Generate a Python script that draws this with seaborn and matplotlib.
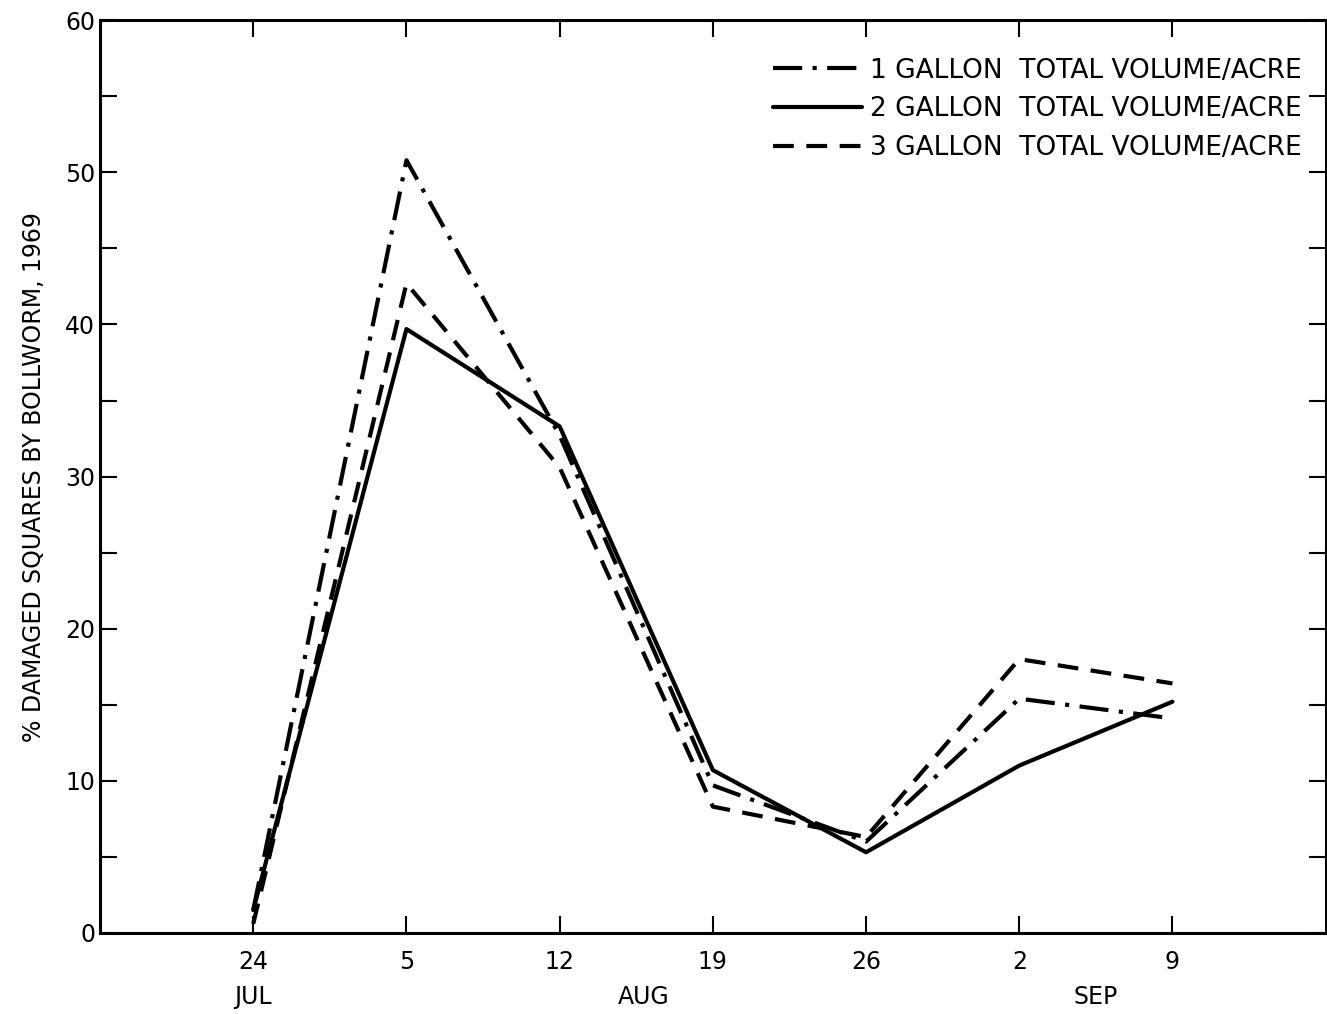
import matplotlib
matplotlib.use("Agg")
import matplotlib.pyplot as plt
import seaborn as sns
import pandas as pd
from matplotlib.ticker import MultipleLocator, FuncFormatter
from matplotlib.lines import Line2D

# sampling dates (day of month), JUL 24 -> SEP 9, 1969
dates = ['24', '5', '12', '19', '26', '2', '9']
months = ['JUL', 'AUG', 'SEP']
month_pos = [0, 2.55, 5.5]

one_gallon = [1.5, 50.8, 32.7, 9.7, 6.0, 15.4, 14.1]
two_gallon = [1.5, 39.7, 33.3, 10.7, 5.3, 11.0, 15.2]
three_gallon = [0.6, 42.7, 30.6, 8.3, 6.3, 18.0, 16.4]

labels = ['1 GALLON  TOTAL VOLUME/ACRE',
          '2 GALLON  TOTAL VOLUME/ACRE',
          '3 GALLON  TOTAL VOLUME/ACRE']

rows = []
for lab, vals in zip(labels, [one_gallon, two_gallon, three_gallon]):
    for i, v in enumerate(vals):
        rows.append([lab, i, v])
df = pd.DataFrame(rows, columns=['series', 'x', 'pct'])

sns.set_style("ticks")
plt.rcParams['font.family'] = ['DejaVu Sans']
plt.rcParams['text.color'] = 'black'
plt.rcParams['axes.labelcolor'] = 'black'

dash_map = {labels[0]: (7, 2.5, 1, 2.5), labels[1]: "", labels[2]: (5, 3)}

fig = plt.figure(figsize=(13.27, 10.14), dpi=100)
ax = fig.add_axes([0.0754, 0.080, 0.9236, 0.900])

sns.lineplot(data=df, x='x', y='pct', hue='series', style='series',
             palette=['black'] * 3, dashes=dash_map, linewidth=3,
             legend=False, ax=ax)

ax.set_xlim(-1, 7)
ax.set_ylim(0, 60)
ax.set_xticks(range(len(dates)))
ax.set_xticklabels(dates)
ax.yaxis.set_major_locator(MultipleLocator(5))
ax.yaxis.set_major_formatter(FuncFormatter(lambda v, p: '%d' % v if v % 10 == 0 else ''))
ax.tick_params(direction='in', length=12, width=1.5, top=True, right=True,
               labelsize=17, colors='black')
ax.tick_params(axis='x', pad=12)
ax.set_xlabel('')
ax.set_ylabel('% DAMAGED SQUARES BY BOLLWORM, 1969', fontsize=17, labelpad=14)
for s in ax.spines.values():
    s.set_linewidth(2.2)
    s.set_color('black')

for m, p in zip(months, month_pos):
    ax.text(p, -0.07, m, transform=ax.get_xaxis_transform(),
            ha='center', va='center', fontsize=17)

handles = [Line2D([], [], color='black', linewidth=3, dashes=(7, 2.5, 1, 2.5)),
           Line2D([], [], color='black', linewidth=3),
           Line2D([], [], color='black', linewidth=3, dashes=(5, 3))]
ax.legend(handles, labels, loc='upper right', bbox_to_anchor=(1.0, 0.985),
          frameon=False, fontsize=19, handlelength=3.4, handletextpad=0.3,
          labelspacing=0.48)

fig.savefig('out.png', dpi=100)
